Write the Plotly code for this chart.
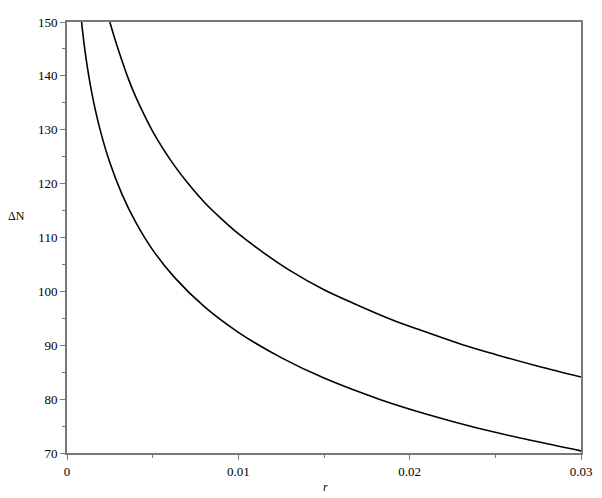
import plotly.graph_objects as go

# values
r_lower = [0.00085, 0.001, 0.0012, 0.0015, 0.0019, 0.0025, 0.0032, 0.004, 0.005, 0.0063,
           0.008, 0.010, 0.0125, 0.015, 0.0183, 0.021, 0.024, 0.027, 0.030]
dn_lower = [150.0, 145.9, 141.4, 136.0, 130.4, 123.9, 118.1, 112.9, 107.7, 102.5,
            97.2, 92.4, 87.7, 83.9, 79.9, 77.2, 74.6, 72.4, 70.4]

r_upper = [0.0025, 0.0028, 0.0032, 0.0036, 0.004, 0.0045, 0.005, 0.0056, 0.0063, 0.007,
           0.008, 0.009, 0.010, 0.0115, 0.013, 0.015, 0.017, 0.019, 0.021, 0.023,
           0.025, 0.0275, 0.030]
dn_upper = [150.0, 146.8, 142.9, 139.3, 136.2, 132.8, 129.7, 126.5, 123.2, 120.3,
            116.6, 113.5, 110.7, 107.1, 103.9, 100.3, 97.4, 94.7, 92.4, 90.2,
            88.3, 86.1, 84.1]

x_ticks = [0, 0.01, 0.02, 0.03]
x_labels = ['0', '0.01', '0.02', '0.03']
y_ticks = [70, 80, 90, 100, 110, 120, 130, 140, 150]

FONT = '"Liberation Serif", "Times New Roman", serif'
AXIS = '#787878'

fig = go.Figure()

for xs, ys in [(r_lower, dn_lower), (r_upper, dn_upper)]:
    fig.add_trace(go.Scatter(
        x=xs, y=ys, mode='lines',
        line=dict(color='black', width=1.6, shape='spline', smoothing=1.0),
        showlegend=False, hoverinfo='skip'
    ))

fig.update_xaxes(
    range=[0, 0.03],
    tickvals=x_ticks, ticktext=x_labels,
    showline=True, mirror=True, linecolor=AXIS, linewidth=2,
    ticks='outside', ticklen=5, tickcolor=AXIS, tickwidth=1,
    minor=dict(ticks='outside', ticklen=3, tickcolor=AXIS, dtick=0.005, showgrid=False),
    showgrid=False, zeroline=False,
    tickfont=dict(family=FONT, size=13, color='black')
)
fig.update_yaxes(
    range=[70, 150],
    tickvals=y_ticks,
    showline=True, mirror=True, linecolor=AXIS, linewidth=2,
    ticks='outside', ticklen=5, tickcolor=AXIS, tickwidth=1,
    minor=dict(ticks='outside', ticklen=3, tickcolor=AXIS, dtick=5, tick0=70, showgrid=False),
    showgrid=False, zeroline=False,
    tickfont=dict(family=FONT, size=13, color='black')
)

fig.add_annotation(text='ΔN', xref='paper', yref='paper', x=-0.077, y=0.55,
                   xanchor='right', yanchor='middle', showarrow=False,
                   font=dict(family=FONT, size=12, color='black'))
fig.add_annotation(text='<i>r</i>', xref='paper', yref='paper', x=0.502, y=-0.078,
                   xanchor='center', yanchor='middle', showarrow=False,
                   font=dict(family=FONT, size=12, color='black'))

# page body has an 8px margin, so the figure is 8px smaller than the window
fig.update_layout(
    width=594, height=490,
    margin=dict(l=59, r=21, t=7, b=45),
    paper_bgcolor='white', plot_bgcolor='white',
    font=dict(family=FONT, size=13, color='black')
)

fig.write_html("out.html")
